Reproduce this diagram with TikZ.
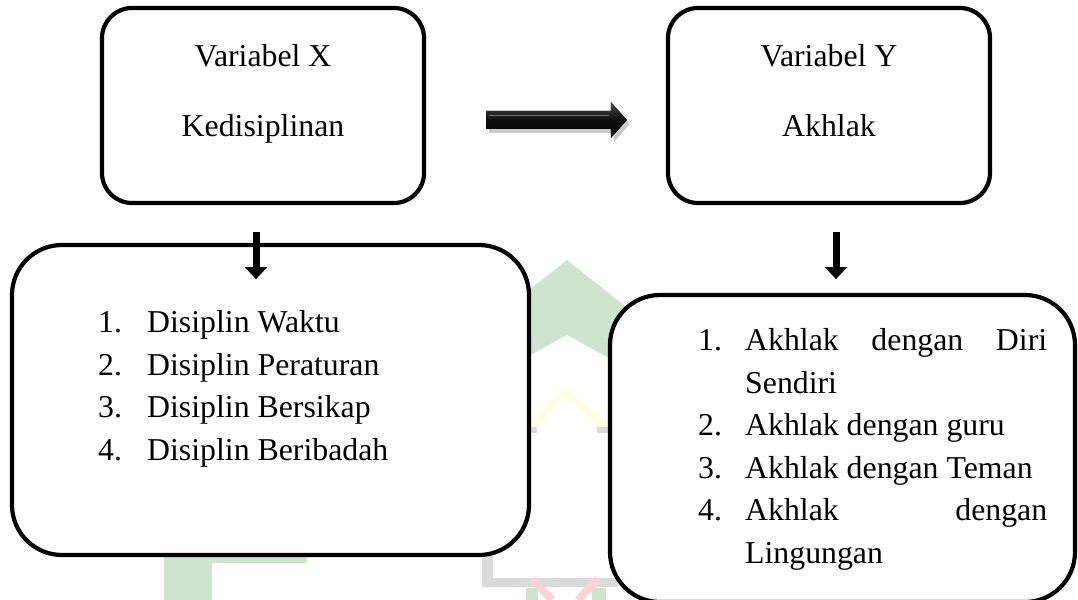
\documentclass[tikz,border=0pt]{standalone}
\usepackage{fontspec}
\setmainfont{Liberation Serif}
\usetikzlibrary{arrows.meta,calc}
\definecolor{wmgreen}{RGB}{207,228,207}
\definecolor{wmgray}{RGB}{218,218,218}
\definecolor{wmpink}{RGB}{255,210,216}
\definecolor{wmyellow}{RGB}{255,255,228}
\tikzset{
  roundbox/.style={draw=black, line width=4.2bp, fill=white, rectangle, inner sep=0pt},
  bigtext/.style={inner sep=0pt, anchor=base, font=\fontsize{31.8bp}{40bp}\selectfont},
  listline/.style={inner sep=0pt, anchor=base west, font=\fontsize{31.8bp}{40bp}\selectfont},
  downarrow/.style={line width=7bp, -{Triangle[width=22bp,length=12bp]}},
}
\begin{document}
\begin{tikzpicture}[x=1bp,y=-1bp]
\useasboundingbox (0,0) rectangle (1078,600);
% watermark (faint logo)
\fill[wmgreen] (567,260) -- (640,318) -- (640,375) -- (567,335) -- (494,375) -- (494,318) -- cycle;
\draw[wmyellow, line width=7bp] (530,428) -- (567,391) -- (604,428);
\fill[wmgray] (526,427) rectangle (537,433);
\fill[wmgray] (597,427) rectangle (614,433);
\fill[wmgreen] (164,556) -- (307,556) -- (307,563) -- (212,563) -- (212,600) -- (164,600) -- cycle;
\fill[wmgray] (482,555) -- (493,555) -- (493,578) -- (618,578) -- (618,587) -- (482,587) -- cycle;
\fill[wmgreen] (526,588) rectangle (538,600);
\fill[wmgreen] (592,588) rectangle (606,600);
\draw[wmpink, line width=8bp] (532,579) -- (552,600);
\draw[wmpink, line width=8bp] (598,579) -- (578,600);
% boxes
\node[roundbox, rounded corners=30bp, minimum width=322bp, minimum height=195bp] (boxX) at (263,105.5) {};
\node[roundbox, rounded corners=30bp, minimum width=322bp, minimum height=195bp] (boxY) at (829,105.5) {};
\node[roundbox, rounded corners=50bp, minimum width=517bp, minimum height=310bp] (listL) at (270.5,400) {};
\node[roundbox, rounded corners=50bp, minimum width=465bp, minimum height=307bp] (listR) at (842.5,448.5) {};
% top texts
\node[bigtext] (tX1) at (263,67) {Variabel X};
\node[bigtext] (tX2) at (263,137) {Kedisiplinan};
\node[bigtext] (tY1) at (829,67) {Variabel Y};
\node[bigtext] (tY2) at (829,137) {Akhlak};
% left list
\node[listline] (l1) at (98,332) {\makebox[49bp][l]{1.}Disiplin Waktu};
\node[listline] (l2) at (98,375) {\makebox[49bp][l]{2.}Disiplin Peraturan};
\node[listline] (l3) at (98,417) {\makebox[49bp][l]{3.}Disiplin Bersikap};
\node[listline] (l4) at (98,460) {\makebox[49bp][l]{4.}Disiplin Beribadah};
% right list
\node[listline] (r1) at (698,350) {\makebox[47bp][l]{1.}\hbox to 302bp{Akhlak\hfill dengan\hfill Diri}};
\node[listline] (r2) at (698,393) {\hspace*{47bp}Sendiri};
\node[listline] (r3) at (698,435) {\makebox[47bp][l]{2.}Akhlak dengan guru};
\node[listline] (r4) at (698,478) {\makebox[47bp][l]{3.}Akhlak dengan Teman};
\node[listline] (r5) at (698,520) {\makebox[47bp][l]{4.}\hbox to 302bp{Akhlak\hfill dengan}};
\node[listline] (r6) at (698,563) {\hspace*{47bp}Lingungan};
% horizontal block arrow between boxX and boxY
\coordinate (hs) at ($(boxX.east)+(60,14.5)$);
\coordinate (he) at ($(boxY.west)+(-39,14.5)$);
\fill[black!35, opacity=0.6] ($(hs)+(3,-5)$) -- ($(he)+(-13,-5)$) -- ($(he)+(-13,-14)$) -- ($(he)+(3,4)$) -- ($(he)+(-13,22)$) -- ($(he)+(-13,13)$) -- ($(hs)+(3,13)$) -- cycle;
\fill[top color=black!70, bottom color=black, middle color=black!95] ($(hs)+(0,-9)$) -- ($(he)+(-16,-9)$) -- ($(he)+(-16,-18)$) -- (he) -- ($(he)+(-16,18)$) -- ($(he)+(-16,9)$) -- ($(hs)+(0,9)$) -- cycle;
\draw[black!55, line width=0.8bp] ($(hs)+(3,-5)$) -- ($(he)+(-18,-5)$);
% down arrows
\coordinate (dl) at ($(boxX.south)+(-7,27)$);
\coordinate (dr) at ($(boxY.south)+(7,27)$);
\draw[downarrow] (dl) -- ($(dl)+(0,47)$);
\draw[downarrow] (dr) -- ($(dr)+(0,47)$);
\end{tikzpicture}
\end{document}
